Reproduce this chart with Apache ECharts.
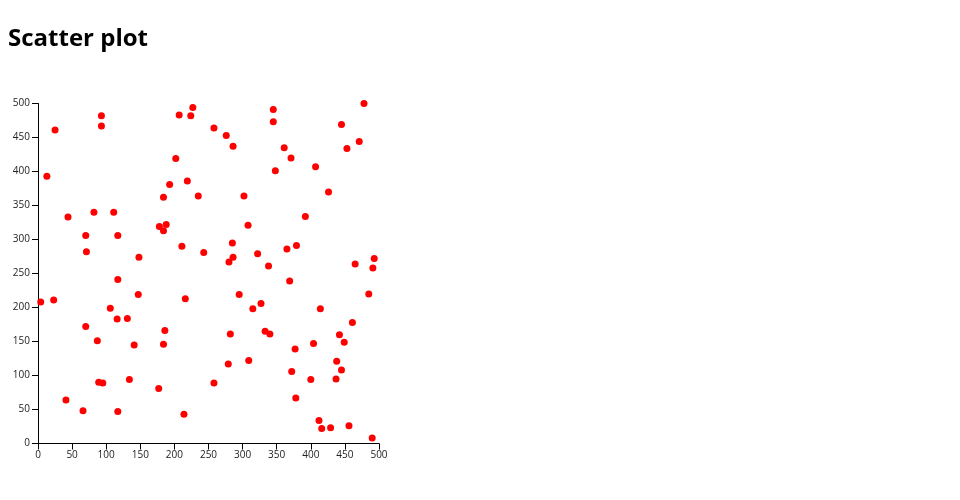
<!DOCTYPE html>
<html><head><meta charset="utf-8">
<script src="https://cdn.jsdelivr.net/npm/echarts@6/dist/echarts.min.js"></script>
<style>html,body{margin:0;padding:0;background:#fff}#c{width:960px;height:500px}</style>
</head><body><div id="c"></div>
<script>
const title = "Scatter plot";
const xTicks = [0,50,100,150,200,250,300,350,400,450,500];
const yTicks = [0,50,100,150,200,250,300,350,400,450,500];
const xValues = [4,13,23,25,41,44,66,70,70,71,82,87,89,95,93,93,106,111,117,116,117,117,131,134,141,148,147,177,178,184,184,184,186,188,193,202,207,211,214,216,219,224,227,235,243,258,258,276,280,279,282,285,286,286,295,302,308,309,315,322,327,333,338,340,345,345,348,361,365,371,369,372,377,379,378,392,400,404,407,412,414,416,426,429,437,438,442,445,449,445,453,456,461,465,471,478,485,490,491,493];
const yValues = [208,393,211,461,64,333,48,172,306,282,340,151,90,89,482,467,199,340,306,183,241,47,184,94,145,274,219,81,319,362,313,146,166,322,381,419,483,290,43,213,386,482,494,364,281,464,89,453,267,117,161,295,274,437,219,364,321,122,198,279,206,165,261,161,491,473,401,435,286,420,239,106,139,291,67,334,94,147,407,34,198,22,370,23,95,121,160,108,149,469,434,26,178,264,444,500,220,8,258,272];
const points = xValues.map((x,i)=>[x,yValues[i]]);
const chart = echarts.init(document.getElementById('c'), null, {renderer:'canvas'});
const font = "'Open Sans', 'Noto Sans', sans-serif";
chart.setOption({
  animation:false,
  title:{text:title,left:8,top:27,padding:0,textStyle:{fontFamily:font,fontSize:24,fontWeight:'bold',color:'#000'}},
  grid:{left:38,right:581,top:103.5,bottom:56.5,containLabel:false},
  xAxis:{type:'value',min:xTicks[0],max:xTicks[xTicks.length-1],interval:50,
    axisLine:{show:true,lineStyle:{color:'#000',width:1}},
    axisTick:{show:true,length:6,lineStyle:{color:'#000'}},
    axisLabel:{fontFamily:font,fontSize:10,color:'#222',margin:7},
    splitLine:{show:false}},
  yAxis:{type:'value',min:yTicks[0],max:yTicks[yTicks.length-1],interval:50,
    axisLine:{show:true,lineStyle:{color:'#000',width:1}},
    axisTick:{show:true,length:6,lineStyle:{color:'#000'}},
    axisLabel:{fontFamily:font,fontSize:10,color:'#222',margin:8},
    splitLine:{show:false}},
  series:[{type:'scatter',data:points,symbolSize:7,itemStyle:{color:'#ff0000',opacity:1}}]
});
</script></body></html>
